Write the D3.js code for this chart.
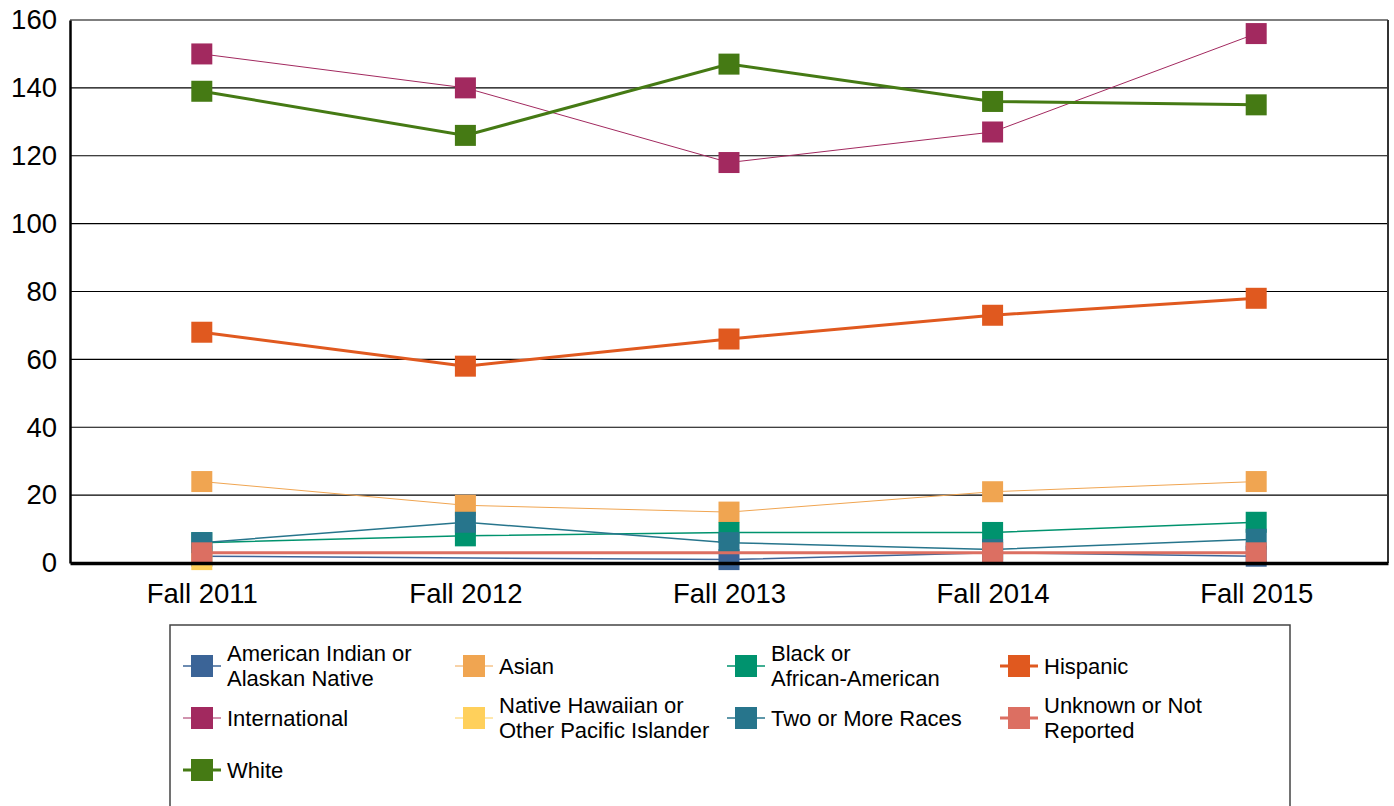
<!DOCTYPE html>
<html>
<head>
<meta charset="utf-8">
<script src="https://cdn.jsdelivr.net/npm/d3@7"></script>
<style>
  body { margin: 0; background: #fff; }
  svg { display: block; font-family: "Liberation Sans", Arial, sans-serif; }
</style>
</head>
<body>
<svg id="chart" width="1394" height="806"></svg>
<script>
// categories
var years = ["Fall 2011", "Fall 2012", "Fall 2013", "Fall 2014", "Fall 2015"];
var yTicks = [0, 20, 40, 60, 80, 100, 120, 140, 160];

// series values (null = no value that year)
var americanIndian = [2, null, 1, 3, 2];
var asian = [24, 17, 15, 21, 24];
var black = [6, 8, 9, 9, 12];
var hispanic = [68, 58, 66, 73, 78];
var international = [150, 140, 118, 127, 156];
var nativeHawaiian = [1, null, null, null, null];
var twoOrMore = [6, 12, 6, 4, 7];
var unknown = [3, null, null, 3, 3];
var white = [139, 126, 147, 136, 135];

var seriesNames = ["American Indian or|Alaskan Native", "Asian", "Black or|African-American", "Hispanic",
    "International", "Native Hawaiian or|Other Pacific Islander", "Two or More Races", "Unknown or Not|Reported", "White"];
var seriesValues = [americanIndian, asian, black, hispanic, international, nativeHawaiian, twoOrMore, unknown, white];
var colors = ["#3b6497", "#f0a551", "#00936e", "#e0591f", "#a2295f", "#ffd05b", "#27758c", "#dc6f62", "#457a14"];
var widths = [1.5, 1, 1.5, 3, 1, 1, 1.5, 3, 3];

var series = seriesNames.map(function(name, i){
    return {
        name: name,
        color: colors[i],
        width: widths[i],
        values: years.map(function(y, j){ return {year: y, v: seriesValues[i][j]}; })
                     .filter(function(d){ return d.v !== null; })
    };
});

var plotLeft = 70, plotRight = 1388, plotTop = 20, plotBottom = 563;
var svg = d3.select("#chart");

var xScale = d3.scalePoint().domain(years).range([plotLeft, plotRight]).padding(0.5);
var yScale = d3.scaleLinear().domain([0, 160]).range([plotBottom, plotTop]);

// gridlines
svg.append("g")
    .selectAll("line")
    .data(yTicks.filter(function(t){ return t > 0; }))
    .enter()
    .append("line")
    .attr("x1", plotLeft).attr("x2", plotRight)
    .attr("y1", d => yScale(d)).attr("y2", d => yScale(d))
    .attr("stroke", "#000").attr("stroke-width", 1.2);

// y axis
var yAxis = d3.axisLeft(yScale).tickValues(yTicks).tickSize(0).tickPadding(13);
svg.append("g")
    .attr("transform", "translate(" + plotLeft + ",0)")
    .call(yAxis)
    .call(g => g.select(".domain").attr("stroke", "#000").attr("stroke-width", 2.5))
    .selectAll("text")
    .attr("font-size", "27.5px")
    .attr("fill", "#000")
    .attr("font-family", "Liberation Sans, Arial, sans-serif");

// right border
svg.append("line")
    .attr("x1", plotRight).attr("x2", plotRight).attr("y1", plotTop).attr("y2", plotBottom)
    .attr("stroke", "#333").attr("stroke-width", 2);

// lines + markers per series
var line = d3.line()
    .x(d => xScale(d.year))
    .y(d => yScale(d.v));

var groups = svg.selectAll(".series")
    .data(series)
    .enter()
    .append("g")
    .attr("class", "series");

groups.each(function(s){
    var g = d3.select(this);
    if (s.values.length > 1) {
        g.append("path")
            .attr("d", line(s.values))
            .attr("fill", "none")
            .attr("stroke", s.color)
            .attr("stroke-width", s.width);
    }
    g.selectAll("rect")
        .data(s.values)
        .enter()
        .append("rect")
        .attr("x", d => xScale(d.year) - 10.5)
        .attr("y", d => yScale(d.v) - 10.5)
        .attr("width", 21)
        .attr("height", 21)
        .attr("fill", s.color);
});

// x axis (thick bottom line)
var xAxis = d3.axisBottom(xScale).tickSize(0).tickPadding(20);
svg.append("g")
    .attr("transform", "translate(0," + plotBottom + ")")
    .call(xAxis)
    .call(g => g.select(".domain").attr("stroke", "#000").attr("stroke-width", 3.5))
    .selectAll("text")
    .attr("font-size", "27.5px")
    .attr("fill", "#000")
    .attr("font-family", "Liberation Sans, Arial, sans-serif");

// legend
var legend = svg.append("g");
legend.append("rect")
    .attr("x", 170).attr("y", 625)
    .attr("width", 1120).attr("height", 220)
    .attr("fill", "none")
    .attr("stroke", "#444")
    .attr("stroke-width", 1.5);

var colX = [183, 455, 727, 1000];
var rowY = [666, 718, 770];

var items = legend.selectAll(".item")
    .data(series)
    .enter()
    .append("g")
    .attr("class", "item")
    .attr("transform", (d, i) => "translate(" + colX[i % 4] + "," + rowY[Math.floor(i / 4)] + ")");

items.append("line")
    .attr("x1", 0).attr("x2", 38)
    .attr("stroke", d => d.color)
    .attr("stroke-width", d => d.width);

items.append("rect")
    .attr("x", 8).attr("y", -11)
    .attr("width", 22).attr("height", 22)
    .attr("fill", d => d.color);

items.append("text")
    .attr("x", 44)
    .attr("font-size", "22px")
    .attr("fill", "#000")
    .each(function(d){
        var parts = d.name.split("|");
        var t = d3.select(this);
        parts.forEach(function(p, k){
            t.append("tspan")
                .attr("x", 44)
                .attr("y", (k - (parts.length - 1) / 2) * 25)
                .attr("dy", "0.35em")
                .text(p);
        });
    });
</script>
</body>
</html>
